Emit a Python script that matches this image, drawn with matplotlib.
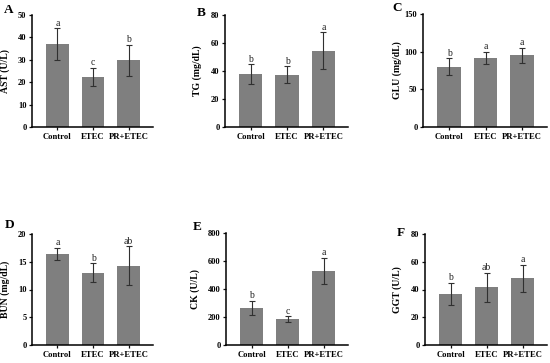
import matplotlib
matplotlib.use("Agg")
import matplotlib.pyplot as plt

plt.rcParams['font.family'] = ['Liberation Serif', 'DejaVu Serif']

groups = ["Control", "ETEC", "PR+ETEC"]

ast_mean = [37.0, 22.5, 29.8]
ast_sd = [7.0, 4.0, 7.0]
ast_sig = ["a", "c", "b"]

tg_mean = [38.0, 37.5, 54.5]
tg_sd = [7.0, 6.0, 13.0]
tg_sig = ["b", "b", "a"]

glu_mean = [80.0, 91.5, 95.0]
glu_sd = [11.5, 8.5, 10.5]
glu_sig = ["b", "a", "a"]

bun_mean = [16.4, 13.0, 14.3]
bun_sd = [1.1, 1.7, 3.5]
bun_sig = ["a", "b", "ab"]

ck_mean = [265.0, 185.0, 530.0]
ck_sd = [50.0, 22.0, 92.0]
ck_sig = ["b", "c", "a"]

ggt_mean = [37.0, 41.5, 48.0]
ggt_sd = [8.0, 10.5, 10.0]
ggt_sig = ["b", "ab", "a"]

W, H = 550, 363

# (letter, ylabel, mean, sd, sig, ymax, step,
#  axis-left px, axis-right px, top px, bottom px, letter x px, letter y px, ylabel x px)
panels = [
    ("A", "AST (U/L)", ast_mean, ast_sd, ast_sig, 50, 10, 32, 153, 15, 127, 4, 10, 10),
    ("B", "TG (mg/dL)", tg_mean, tg_sd, tg_sig, 80, 20, 225, 348, 15, 127, 197, 13, 202),
    ("C", "GLU (mg/dL)", glu_mean, glu_sd, glu_sig, 150, 50, 423, 547, 14, 127, 392, 8, 402),
    ("D", "BUN (mg/dL)", bun_mean, bun_sd, bun_sig, 20, 5, 32, 153, 234, 345, 5, 225, 10),
    ("E", "CK (U/L)", ck_mean, ck_sd, ck_sig, 800, 200, 226, 348, 233, 345, 193, 227, 200),
    ("F", "GGT (U/L)", ggt_mean, ggt_sd, ggt_sig, 80, 20, 425, 547, 234, 345, 397, 233, 402),
]

fig = plt.figure(figsize=(W / 100, H / 100), dpi=100)

for (letter, ylabel, mean, sd, sig, ymax, step,
     xl, xr, yt, yb, lx, ly, ylx) in panels:
    ax = fig.add_axes([xl / W, 1 - yb / H, (xr - xl) / W, (yb - yt) / H])
    x = list(range(len(groups)))
    ax.bar(x, mean, width=0.64, color="#7f7f7f", zorder=1)
    ax.errorbar(x, mean, yerr=sd, fmt="none", ecolor="#303030",
                elinewidth=0.8, capsize=2.2, capthick=0.8, zorder=2)
    for xi, m, s, t in zip(x, mean, sd, sig):
        ax.text(xi, m + s + ymax * 0.004, t, ha="center", va="bottom",
                fontsize=7, color="#222222")
    ax.set_xlim(-0.71, 2.68)
    ax.set_ylim(0, ymax)
    ax.set_yticks(range(0, ymax + 1, step))
    ax.set_xticks(x)
    ax.set_xticklabels(groups, fontsize=6.2, fontweight="bold")
    for lab in ax.get_yticklabels():
        lab.set_fontsize(6)
        lab.set_fontweight("bold")
    ax.set_ylabel(ylabel, fontsize=7, fontweight="bold")
    ax.yaxis.set_label_coords((ylx - xl) / (xr - xl), 0.5)
    ax.spines["top"].set_visible(False)
    ax.spines["right"].set_visible(False)
    ax.spines["left"].set_linewidth(1.1)
    ax.spines["bottom"].set_linewidth(1.1)
    ax.tick_params(axis="both", width=0.9, length=2.5, pad=1.5, color="#111111")
    fig.text(lx / W, 1 - ly / H, letter, fontsize=9.5, fontweight="bold",
             ha="left", va="center")

fig.savefig("out.png", dpi=100)
